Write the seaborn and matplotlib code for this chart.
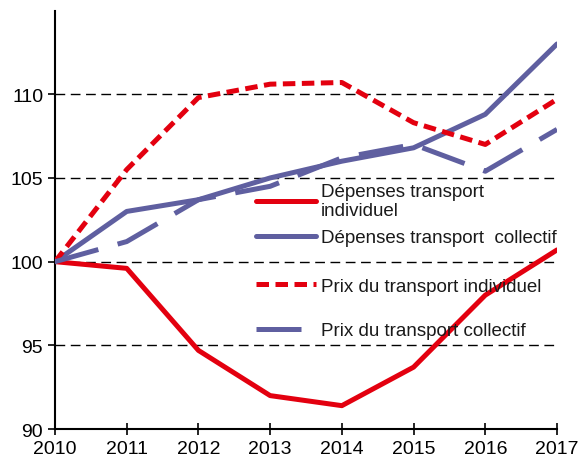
import pandas as pd
import matplotlib.pyplot as plt
import seaborn as sns

# data (index 2010 = 100)
years = [2010, 2011, 2012, 2013, 2014, 2015, 2016, 2017]
dep_indiv = [100, 99.6, 94.7, 92.0, 91.4, 93.7, 98.0, 100.7]
dep_coll = [100, 103.0, 103.7, 105.0, 106.0, 106.8, 108.8, 113.0]
prix_indiv = [100, 105.5, 109.8, 110.6, 110.7, 108.3, 107.0, 109.7]
prix_coll = [100, 101.2, 103.7, 104.5, 106.2, 107.0, 105.4, 107.9]

labels = ['Dépenses transport\nindividuel', 'Dépenses transport  collectif',
          'Prix du transport individuel', 'Prix du transport collectif']
series = [dep_indiv, dep_coll, prix_indiv, prix_coll]

df = pd.concat([pd.DataFrame({'year': years, 'value': s, 'serie': lab})
                for lab, s in zip(labels, series)], ignore_index=True)

red = '#E3000F'
blue = '#5F5FA0'
palette = dict(zip(labels, [red, blue, red, blue]))
dashes = dict(zip(labels, ['', '', (2.5, 1.3), (9, 4)]))

sns.set_style('white')
plt.rcParams['font.family'] = ['Liberation Sans', 'DejaVu Sans']

fig = plt.figure(figsize=(5.79, 4.6), dpi=100)
ax = fig.add_axes([0.095, 0.065, 0.867, 0.91])

# horizontal reference lines
for y in [95, 100, 105, 110]:
    ax.axhline(y, color='black', linestyle=(0, (7, 4)), linewidth=1, zorder=1)

sns.lineplot(data=df, x='year', y='value', hue='serie', style='serie',
             palette=palette, dashes=dashes, linewidth=3.6, ax=ax, zorder=3,
             legend=True)

ax.set_xlim(2010, 2017)
ax.set_ylim(90, 115)
ax.set_xticks(years)
ax.set_yticks([90, 95, 100, 105, 110])
ax.set_xlabel('')
ax.set_ylabel('')
ax.tick_params(axis='both', labelsize=14, length=5, width=1.2,
               colors='black', bottom=True, left=True)
ax.tick_params(axis='x', direction='inout', length=8)
ax.tick_params(axis='y', direction='out')
for side in ['top', 'right']:
    ax.spines[side].set_visible(False)
for side in ['left', 'bottom']:
    ax.spines[side].set_color('black')
    ax.spines[side].set_linewidth(1.5)

# legend split in two blocks to get the uneven spacing of the original
handles, labs = ax.get_legend_handles_labels()
opts = dict(loc='upper left', frameon=False, fontsize=13.5, handlelength=3.2,
            handletextpad=0.3)
leg1 = ax.legend(handles[:2], labs[:2], bbox_to_anchor=(0.366, 0.629),
                 labelspacing=0.55, **opts)
leg1.get_texts()[0].set_linespacing(1.15)
ax.add_artist(leg1)
leg2 = ax.legend(handles[2:], labs[2:], bbox_to_anchor=(0.366, 0.402),
                 labelspacing=1.45, **opts)
for leg in (leg1, leg2):
    for t in leg.get_texts():
        t.set_color('#1a1a1a')

plt.savefig('out.png', dpi=100)
